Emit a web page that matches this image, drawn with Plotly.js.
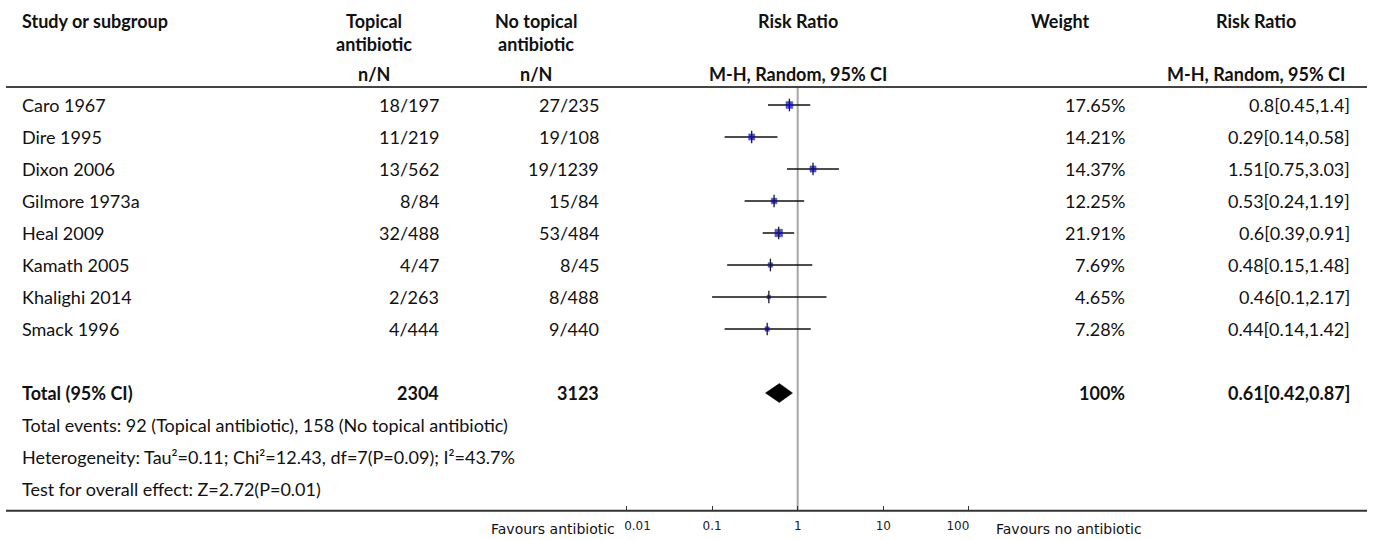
<!DOCTYPE html>
<html><head><meta charset="utf-8">
<script src="https://cdn.plot.ly/plotly-3.0.1.min.js"></script>
<style>html,body{margin:0;padding:0;background:#fff;} #chart{width:1375px;height:540px;}</style>
</head><body><div id="chart"></div>
<script>
// ---------- data ----------
const studies = ["Caro 1967","Dire 1995","Dixon 2006","Gilmore 1973a","Heal 2009","Kamath 2005","Khalighi 2014","Smack 1996"];
const topicalNN = ["18/197","11/219","13/562","8/84","32/488","4/47","2/263","4/444"];
const noTopicalNN = ["27/235","19/108","19/1239","15/84","53/484","8/45","8/488","9/440"];
const rr = [0.8,0.29,1.51,0.53,0.6,0.48,0.46,0.44];
const rrLow = [0.45,0.14,0.75,0.24,0.39,0.15,0.1,0.14];
const rrHigh = [1.4,0.58,3.03,1.19,0.91,1.48,2.17,1.42];
const weights = [17.65,14.21,14.37,12.25,21.91,7.69,4.65,7.28];
const totalLabel = "Total (95% CI)";
const totalTopical = "2304";
const totalNoTopical = "3123";
const totalWeight = "100%";
const totalRR = 0.61, totalLow = 0.42, totalHigh = 0.87;
const footnotes = [
  "Total events: 92 (Topical antibiotic), 158 (No topical antibiotic)",
  "Heterogeneity: Tau\u00b2=0.11; Chi\u00b2=12.43, df=7(P=0.09); I\u00b2=43.7%",
  "Test for overall effect: Z=2.72(P=0.01)"
];
const headerLine1 = ["Study or subgroup","Topical","No topical","Risk Ratio","Weight","Risk Ratio"];
const headerLine2 = ["","antibiotic","antibiotic","","",""];
const headerLine3 = ["","n/N","n/N","M-H, Random, 95% CI","","M-H, Random, 95% CI"];
const tickVals = [0.01,0.1,1,10,100];
const tickLabels = ["0.01","0.1","1","10","100"];
const favoursLeft = "Favours antibiotic";
const favoursRight = "Favours no antibiotic";

// ---------- layout constants ----------
const W = 1375, H = 540;
const ROW0 = 105, STEP = 32;
const rowY = i => ROW0 + STEP * i;
const TOTAL_ROW = studies.length + 1;
const px = x => x / W;
const HEADER_Y = [21, 44, 74];
const HEADER_LINE_Y = 87;
const AXIS_Y = 510.7;
const headerCenters = [21, 374, 536, 798, 1060, 1256];
const VAL_RIGHT = {topical: 440, noTopical: 600, weight: 1126, rr: 1351};
const FONT = {family: "Lato, 'Open Sans', sans-serif", size: 18, color: "#111"};
const BOLD = Object.assign({}, FONT, {weight: 700});
const ONE_PX = 797.7, DECADE = 85.6, PLOT_L = 625, PLOT_R = 970;
const XRANGE = [(PLOT_L - ONE_PX) / DECADE, (PLOT_R - ONE_PX) / DECADE];

const ann = [];
function add(text, x, y, anchor, font, yref) {
  ann.push({text: text, x: px(x), xref: 'paper', y: y, yref: yref || 'y', xanchor: anchor,
            yanchor: 'middle', showarrow: false, font: font, borderpad: 0});
}
// headers
headerLine1.forEach((t, k) => { if (t) add(t, headerCenters[k], HEADER_Y[0], k === 0 ? 'left' : 'center', BOLD); });
headerLine2.forEach((t, k) => { if (t) add(t, headerCenters[k], HEADER_Y[1], 'center', BOLD); });
headerLine3.forEach((t, k) => { if (t) add(t, headerCenters[k], HEADER_Y[2], 'center', BOLD); });
// study rows
const fmtRR = (e, l, h) => `${e}[${l},${h}]`;
studies.forEach((s, i) => {
  const y = rowY(i);
  add(s, 21, y, 'left', FONT);
  add(topicalNN[i], VAL_RIGHT.topical, y, 'right', FONT);
  add(noTopicalNN[i], VAL_RIGHT.noTopical, y, 'right', FONT);
  add(weights[i].toFixed(2) + "%", VAL_RIGHT.weight, y, 'right', FONT);
  add(fmtRR(rr[i], rrLow[i], rrHigh[i]), VAL_RIGHT.rr, y, 'right', FONT);
});
// total row
const yt = rowY(TOTAL_ROW);
add(totalLabel, 21, yt, 'left', BOLD);
add(totalTopical, VAL_RIGHT.topical, yt, 'right', BOLD);
add(totalNoTopical, VAL_RIGHT.noTopical, yt, 'right', BOLD);
add(totalWeight, VAL_RIGHT.weight, yt, 'right', BOLD);
add(fmtRR(totalRR, totalLow, totalHigh), VAL_RIGHT.rr, yt, 'right', BOLD);
footnotes.forEach((t, k) => add(t, 21, rowY(TOTAL_ROW + 1 + k), 'left', FONT));
// favours labels
const FAV = {family: "'DejaVu Sans', sans-serif", size: 14, color: "#111"};
add(favoursLeft, 616, 529, 'right', FAV);
add(favoursRight, 995, 529, 'left', FAV);

// ---------- traces ----------
const ciX = [], ciY = [];
studies.forEach((s, i) => { ciX.push(rrLow[i], rrHigh[i], null); ciY.push(rowY(i), rowY(i), null); });
const traces = [
  {x: [1, 1], y: [HEADER_LINE_Y, AXIS_Y], mode: 'lines', line: {color: '#a6a6a6', width: 2}, hoverinfo: 'skip', cliponaxis: false},
  {x: ciX, y: ciY, mode: 'lines', line: {color: '#111', width: 1.3}, hoverinfo: 'skip'},
  {x: rr, y: studies.map((s, i) => rowY(i)), mode: 'markers',
   marker: {symbol: 'square', color: '#0000ff', size: weights.map(w => 1.6 * Math.sqrt(w)), line: {color: '#000080', width: 0.6}}},
  {x: rr, y: studies.map((s, i) => rowY(i)), mode: 'markers',
   marker: {symbol: 'line-ns-open', size: 9, color: '#1a1a1a', line: {color: '#1a1a1a', width: 1.3}}},
  {x: [totalLow, totalRR, totalHigh, totalRR, totalLow],
   y: [yt, yt - 9.5, yt, yt + 9.5, yt], mode: 'lines', fill: 'toself', fillcolor: '#000',
   line: {color: '#000', width: 0.5}, hoverinfo: 'skip'},
  // invisible anchors for the end-label axes
  {x: [1], y: [-100], xaxis: 'x2', mode: 'markers', marker: {opacity: 0}, hoverinfo: 'skip'},
  {x: [1], y: [-100], xaxis: 'x3', mode: 'markers', marker: {opacity: 0}, hoverinfo: 'skip'}
];

const TICKFONT = {family: "'DejaVu Sans', sans-serif", size: 12, color: '#222'};
const baseAxis = {type: 'log', domain: [px(PLOT_L), px(PLOT_R)], range: XRANGE,
  anchor: 'free', position: (H - AXIS_Y) / H, showline: false, showgrid: false, zeroline: false,
  tickfont: TICKFONT, ticklabelstandoff: 6, fixedrange: true};
const lastK = tickLabels.length - 1;
const layout = {
  width: W, height: H, margin: {l: 0, r: 0, t: 0, b: 0},
  paper_bgcolor: '#fff', plot_bgcolor: 'rgba(0,0,0,0)', showlegend: false,
  xaxis: Object.assign({}, baseAxis, {
    ticks: 'inside', ticklen: 5, tickwidth: 1, tickcolor: '#333',
    tickvals: tickVals,
    ticktext: tickLabels.map((t, k) => (k === 0 || k === lastK) ? '' : t)}),
  xaxis2: Object.assign({}, baseAxis, {overlaying: 'x', ticks: '',
    tickvals: [tickVals[0]], ticktext: [tickLabels[0]], ticklabelshift: 11}),
  xaxis3: Object.assign({}, baseAxis, {overlaying: 'x', ticks: '',
    tickvals: [tickVals[lastK]], ticktext: [tickLabels[lastK]], ticklabelshift: -11}),
  yaxis: {range: [H, 0], domain: [0, 1], visible: false, fixedrange: true},
  shapes: [
    {type: 'line', xref: 'paper', yref: 'paper', x0: px(6), x1: px(1367), y0: 1 - HEADER_LINE_Y / H, y1: 1 - HEADER_LINE_Y / H, line: {color: '#444', width: 2}},
    {type: 'line', xref: 'paper', yref: 'paper', x0: px(6), x1: px(1367), y0: 1 - AXIS_Y / H, y1: 1 - AXIS_Y / H, line: {color: '#333', width: 2}}
  ],
  annotations: ann,
  font: FONT
};
Plotly.newPlot('chart', traces, layout, {staticPlot: true, displayModeBar: false});
</script>
</body></html>
